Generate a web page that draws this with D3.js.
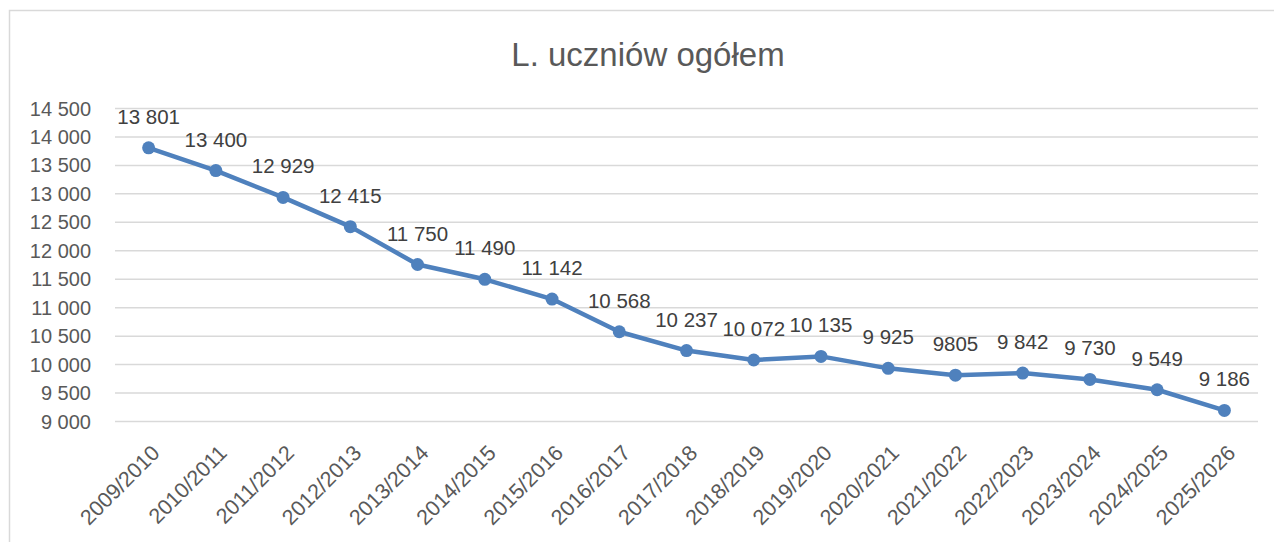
<!DOCTYPE html>
<html lang="pl">
<head>
    <meta charset="UTF-8">
    <title>L. uczniów ogółem</title>
    <style>
        body {
            margin: 0;
            background: #fff;
            font-family: "Liberation Sans", Arial, sans-serif;
        }
        .grid line {
            stroke: #d9d9d9;
            stroke-width: 1.5px;
        }
        .tick text {
            fill: #595959;
        }
    </style>
</head>
<body>
    <div id="chart"></div>

    <script src="https://d3js.org/d3.v7.min.js"></script>
    <script>
        // Data
        const years = ["2009/2010", "2010/2011", "2011/2012", "2012/2013", "2013/2014", "2014/2015",
            "2015/2016", "2016/2017", "2017/2018", "2018/2019", "2019/2020", "2020/2021",
            "2021/2022", "2022/2023", "2023/2024", "2024/2025", "2025/2026"];
        const students = [13801, 13400, 12929, 12415, 11750, 11490, 11142, 10568, 10237,
            10072, 10135, 9925, 9805, 9842, 9730, 9549, 9186];
        const pointLabels = ["13 801", "13 400", "12 929", "12 415", "11 750", "11 490", "11 142",
            "10 568", "10 237", "10 072", "10 135", "9 925", "9805", "9 842", "9 730", "9 549", "9 186"];
        const yTicks = [9000, 9500, 10000, 10500, 11000, 11500, 12000, 12500, 13000, 13500, 14000, 14500];
        const title = "L. uczniów ogółem";

        const width = 1274, height = 542;
        const margin = { top: 108, right: 16, bottom: 121, left: 115 };
        const color = "#4f81bd";

        const svg = d3.select("#chart")
            .append("svg")
            .attr("width", width)
            .attr("height", height);

        // chart frame (right/bottom edges fall outside the picture)
        svg.append("rect")
            .attr("x", 9.5).attr("y", 10.5)
            .attr("width", 1300).attr("height", 600)
            .attr("fill", "none")
            .attr("stroke", "#d9d9d9")
            .attr("stroke-width", 1.5);

        svg.append("text")
            .attr("x", 648)
            .attr("y", 66)
            .attr("text-anchor", "middle")
            .attr("fill", "#595959")
            .style("font-size", "33px")
            .text(title);

        const x = d3.scaleBand()
            .domain(years)
            .range([margin.left, width - margin.right]);

        const y = d3.scaleLinear()
            .domain([9000, 14500])
            .range([height - margin.bottom, margin.top]);

        // gridlines
        svg.append("g")
            .attr("class", "grid")
            .attr("transform", `translate(${margin.left},0)`)
            .call(d3.axisLeft(y).tickValues(yTicks).tickSize(-(width - margin.left - margin.right)).tickFormat(""))
            .call(g => g.select(".domain").remove());

        // y axis labels
        const fmt = d => d3.format(",")(d).replace(",", " ");
        svg.append("g")
            .attr("transform", `translate(${margin.left},0)`)
            .call(d3.axisLeft(y).tickValues(yTicks).tickSize(0).tickPadding(24).tickFormat(fmt))
            .call(g => g.select(".domain").remove())
            .selectAll("text")
            .style("font-size", "20px")
            .attr("dy", "0.35em");

        // x axis labels, rotated
        svg.append("g")
            .attr("transform", `translate(0,${height - margin.bottom})`)
            .call(d3.axisBottom(x).tickSize(0).tickFormat(d => d))
            .call(g => g.select(".domain").remove())
            .selectAll("text")
            .style("font-size", "21.5px")
            .attr("text-anchor", "end")
            .attr("x", 0)
            .attr("y", 0)
            .attr("dy", "0.35em")
            .attr("transform", "translate(7,28) rotate(-45)");

        const cx = (d, i) => x(years[i]) + x.bandwidth() / 2;

        const line = d3.line()
            .x(cx)
            .y(d => y(d));

        svg.append("path")
            .datum(students)
            .attr("fill", "none")
            .attr("stroke", color)
            .attr("stroke-width", 4.5)
            .attr("stroke-linejoin", "round")
            .attr("d", line);

        svg.selectAll("circle.pt")
            .data(students)
            .enter().append("circle")
            .attr("class", "pt")
            .attr("cx", cx)
            .attr("cy", d => y(d))
            .attr("r", 6.5)
            .attr("fill", color);

        svg.selectAll("text.lbl")
            .data(students)
            .enter().append("text")
            .attr("class", "lbl")
            .attr("x", cx)
            .attr("y", d => y(d) - 24)
            .attr("text-anchor", "middle")
            .attr("fill", "#404040")
            .style("font-size", "20.5px")
            .text((d, i) => pointLabels[i]);
    </script>
</body>
</html>
